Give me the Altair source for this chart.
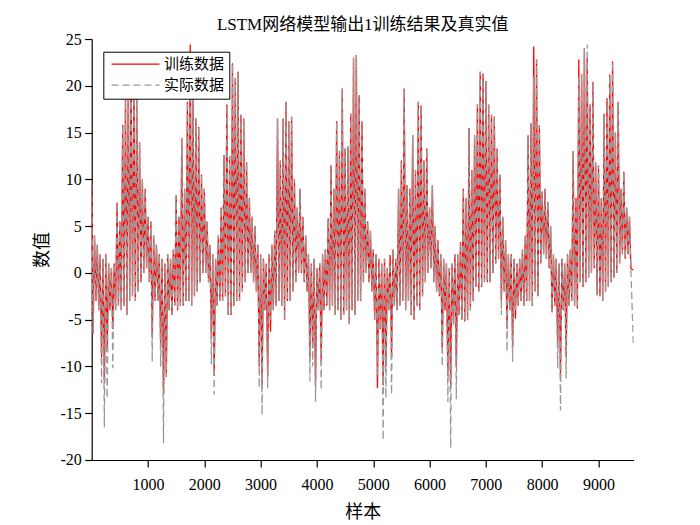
import altair as alt
import pandas as pd

# ---------------- data ----------------
# samples are grouped in blocks of 50; for each block the highest and lowest value
BLOCK = 50
LAST_SAMPLE = 9620

GRAY_HI = [
    9.5, 4, 3, 2, 1.5, 2, 1, 0.5, 1, 7.5,
    5.5, 15.8, 18.5, 21, 22, 20, 19, 14, 10, 9,
    6, 5.5, 4, 3, 2, 1.5, 1, 2, 1.5, 2.5,
    8.3, 6, 14.4, 9, 18.3, 23.3, 18.7, 16.5, 15.6, 10.5,
    9, 5.5, 3, 2, 1.5, 4, 7, 12.6, 18, 12.5,
    22.4, 20.8, 21.5, 16.9, 16.5, 11.8, 8, 6, 5, 3,
    2, 1.5, 1, 2, 3, 4.5, 16.5, 12, 16.5, 18.3,
    16.2, 16.7, 10, 7, 9, 6, 4, 2, 1, 1.5,
    0.5, 1, 2, 2.5, 5.8, 11.5, 9, 16.2, 13, 19.7,
    13.3, 13.5, 17, 23, 23.3, 19, 16.2, 9, 5.5, 4.5,
    2.5, 2, 1.5, 1, 1.5, 0.5, 1, 2.5, 1.5, 9,
    12, 19.7, 9.4, 9, 14.7, 11, 18.3, 17.9, 12, 13.3,
    7, 9.4, 5, 3.5, 2, 1.5, 1, 0.5, 1, 2,
    2, 3.3, 9, 8, 15.5, 11, 14.7, 18, 21.5, 21.3,
    20.5, 18, 16.9, 16.7, 13.3, 10.5, 6, 3.5, 2, 2,
    1.5, 1, 1.5, 2.5, 4, 14.7, 16, 21, 22.8, 15.8,
    8.7, 9, 7.6, 5, 2, 1.5, 1, 1.5, 1, 2,
    2.5, 13, 8, 21, 21.2, 24, 24.4, 18, 20.4, 11.8,
    11.5, 8, 17, 18.7, 21.2, 22.6, 15, 18.3, 9, 10.8, 7, 6,
]
GRAY_LO = [
    -6.5, -3, -4, -11.8, -16.5, -13.4, -4, -10.2, -4, -3.5,
    -4, -3.5, -4.5, -3, -2.5, -3, -2, -1, 0, 0.5,
    -1, -9.5, -3, -3, -10, -18.2, -11.1, -4, -4.5, -3.5,
    -4, -3.5, -3.5, -3, -3, -3.5, -2.5, -2, -1, 0,
    0, -1, -9.8, -13, -3.5, -3, -3, -2.5, -4.5, -4.5,
    -3.5, -3, -3, -2, -1, 0, 0, -1, -2, -12.3,
    -15.2, -4, -12.3, -5, -4, -3.5, -3, -3.5, -5, -3,
    -3, -2, -1, 0, 0, -1, -2, -11.6, -10, -13.8,
    -4, -12.5, -4, -3.5, -4, -3.5, -4.5, -4, -5, -4.5,
    -4, -5.5, -4, -4.5, -3, -3, -1, 0, -1, -2,
    -5, -11, -6, -17.9, -13.4, -4, -13, -3.5, -4, -3.5,
    -3, -4, -3, -4.5, -5, -3.5, -4, -2.5, -1, 0,
    0.5, -1, -2, -2.5, -10, -4, -13.8, -18.7, -5.5, -13.5,
    -4.5, -5, -5.2, -5, -4, -3, -1.5, -2, -1.5, -1,
    -1, -1, 0, 1, 1.5, -4.5, -2, -8.4, -4, -9.5,
    -4, -3.5, -3, -3.5, -3, -3, -3.5, -2, -2.5, 1,
    2, 1.5, 0.5, -4.2, -3.5, -10.2, -14.7, -4, -11.3, -3.5,
    -3, -3.5, -3.8, -1, -1.5, -1, -0.5, 0, 0.5, -2.4,
    -2.5, -3, -2, -1.5, -1, -0.5, 0, 1, 2, 1.5, 2, 0.5,
]
RED_HI = [
    9.5, 4, 3, 2, 1.5, 2, 1, 0.5, 1, 7.5,
    5.5, 15.8, 18.5, 21, 22, 20, 19, 14, 10, 9,
    6, 5.5, 4, 3, 2, 1.5, 1, 2, 1.5, 2.5,
    8.3, 6, 14.4, 9, 18.3, 24.4, 18.7, 16.5, 15.6, 10.5,
    9, 5.5, 3, 2, 1.5, 4, 7, 12.6, 18, 12.5,
    22.4, 20.8, 21.5, 16.9, 16.5, 11.8, 8, 6, 5, 3,
    2, 1.5, 1, 2, 3, 4.5, 16.5, 12, 16.5, 18.3,
    16.2, 16.7, 10, 7, 9, 6, 4, 2, 1, 1.5,
    0.5, 1, 2, 2.5, 5.8, 11.5, 9, 16.2, 13, 19.7,
    13.3, 13.5, 17, 23, 23.3, 19, 16.2, 9, 5.5, 4.5,
    2.5, 2, 1.5, 1, 1.5, 0.5, 1.9, 2.5, 1.5, 9,
    12, 19.7, 9.4, 9, 14.7, 11, 18.3, 17.9, 12, 13.3,
    7, 9.4, 5, 3.5, 2, 1.5, 1, 0.5, 1, 2,
    2, 3.3, 9, 8, 15.5, 11, 14.7, 18, 21.5, 21.3,
    20.5, 18, 16.9, 16.7, 13.3, 10.5, 6, 3.5, 2, 2,
    1.5, 1, 1.5, 2.5, 4, 14.7, 16, 24.2, 22.8, 15.8,
    8.7, 9, 7.6, 5, 2, 1.5, 1, 1.5, 1, 2,
    2.5, 13, 8, 22.8, 21.2, 24, 23, 18, 20.4, 11.8,
    11.5, 8, 17, 18.7, 21.2, 22.6, 15, 18.3, 9, 10.8, 7, 6,
]
RED_LO = [
    -6.5, -3, -4, -9, -11.8, -8, -4, -6, -4, -3.5,
    -4, -3.5, -4.5, -3, -2.5, -3, -2, -1, 0, 0.5,
    -1, -7, -3, -3, -8, -12.8, -11.1, -4, -4.5, -3.5,
    -4, -3.5, -3.5, -3, -3, -3.5, -2.5, -2, -1, 0,
    0, -1, -7, -11, -3.5, -3, -3, -2.5, -4.5, -4.5,
    -3.5, -3, -3, -2, -1, 0, 0, -1, -2, -10,
    -12, -4, -11, -6.3, -4, -3.5, -3, -3.5, -5, -3,
    -3, -2, -1, 0, 0, -1, -2, -9, -8, -12,
    -4, -9.5, -4, -3.5, -4, -3.5, -4.5, -4, -5, -4.5,
    -4, -5.5, -4, -4.5, -3, -3, -1, 0, -1, -2,
    -5, -12.3, -6, -12, -10, -4, -9, -3.5, -4, -3.5,
    -3, -4, -3, -4.5, -5, -3.5, -4, -2.5, -1, 0,
    0.5, -1, -2, -2.5, -8, -4, -11, -12, -5.5, -10,
    -4.5, -5, -5.2, -5, -4, -3, -1.5, -2, -1.5, -1,
    -1, -1, 0, 1, 1.5, -3, -2, -6, -4, -8,
    -4.9, -3.5, -3, -3.5, -3, -3, -3.5, -2, -2.5, 1,
    2, 1.5, 0.5, -4.2, -3.5, -8, -11, -4, -9, -3.5,
    -3, -3.5, -3.8, -1, -1.5, -1, -0.5, 0, 0.5, -2.4,
    -2.5, -3, -2, -1.5, -1, -0.5, 0, 1, 2, 1.5, 2, 0.5,
]
GRAY_END = -7.6
RED_END = 0.3

SERIES = ["训练数据", "实际数据"]
COLORS = ["#FF0000", "#999999"]
DASHES = [[1, 0], [7, 4]]
X_TICKS = [1000, 2000, 3000, 4000, 5000, 6000, 7000, 8000, 9000]
Y_TICKS = [-20, -15, -10, -5, 0, 5, 10, 15, 20, 25]


def series_rows(hi, lo, end, name):
    rows = []
    for i, (h, l) in enumerate(zip(hi, lo)):
        rows.append({"x": i * BLOCK + 1, "y": h, "s": name})
        rows.append({"x": i * BLOCK + 26, "y": l, "s": name})
    rows.append({"x": LAST_SAMPLE, "y": end, "s": name})
    return rows


df = pd.DataFrame(
    series_rows(RED_HI, RED_LO, RED_END, SERIES[0])
    + series_rows(GRAY_HI, GRAY_LO, GRAY_END, SERIES[1])
)

SERIF = "Liberation Serif, Noto Sans CJK SC"

legend = alt.Legend(
    title=None,
    orient="none",
    legendX=11.6,
    legendY=12.7,
    symbolType="M-4.8,0H4.8",
    symbolSize=100,
    symbolOffset=19.7,
    symbolStrokeWidth=1.3,
    labelOffset=21,
    rowPadding=5,
    padding=5,
    strokeColor="black",
    fillColor="white",
    labelFont=SERIF,
    labelFontSize=15,
    labelColor="black",
    labelLimit=300,
)

color = alt.Color("s:N", scale=alt.Scale(domain=SERIES, range=COLORS), legend=legend)
dash = alt.StrokeDash("s:N", scale=alt.Scale(domain=SERIES, range=DASHES), legend=legend)

x_enc = alt.X(
    "x:Q",
    scale=alt.Scale(domain=[1, LAST_SAMPLE + 6], nice=False, zero=False),
    axis=alt.Axis(values=X_TICKS, title="样本", labelPadding=10, titlePadding=11,
                  labelExpr="'' + datum.value"),
)
y_enc = alt.Y(
    "y:Q",
    scale=alt.Scale(domain=[-20, 25], nice=False, zero=False),
    axis=alt.Axis(values=Y_TICKS, title="数值", labelPadding=3.5, titlePadding=8,
                  labelExpr="'' + datum.value"),
)

base = alt.Chart(df).mark_line(strokeWidth=1.3, clip=True).encode(
    x=x_enc, y=y_enc, color=color, strokeDash=dash
)

red_layer = base.transform_filter(alt.datum.s == SERIES[0])
gray_layer = base.transform_filter(alt.datum.s == SERIES[1])

chart = (
    alt.layer(red_layer, gray_layer)
    .properties(
        width=542,
        height=421,
        title=alt.TitleParams(
            "LSTM网络模型输出1训练结果及真实值",
            font=SERIF, fontSize=17, fontWeight="normal", color="black", offset=-3,
        ),
        autosize=alt.AutoSizeParams(type="none"),
        padding={"left": 83.7, "top": 31, "right": 40, "bottom": 80},
    )
    .configure_view(stroke=None)
    .configure_axis(
        grid=False,
        domainColor="black",
        domainWidth=1.2,
        tickColor="black",
        tickWidth=1.2,
        tickSize=7,
        labelColor="black",
        labelFont=SERIF,
        labelFontSize=16,
        titleColor="black",
        titleFont=SERIF,
        titleFontSize=18,
        titleFontWeight="normal",
    )
)

chart.save("out.html", embed_options={"renderer": "svg", "actions": False})
